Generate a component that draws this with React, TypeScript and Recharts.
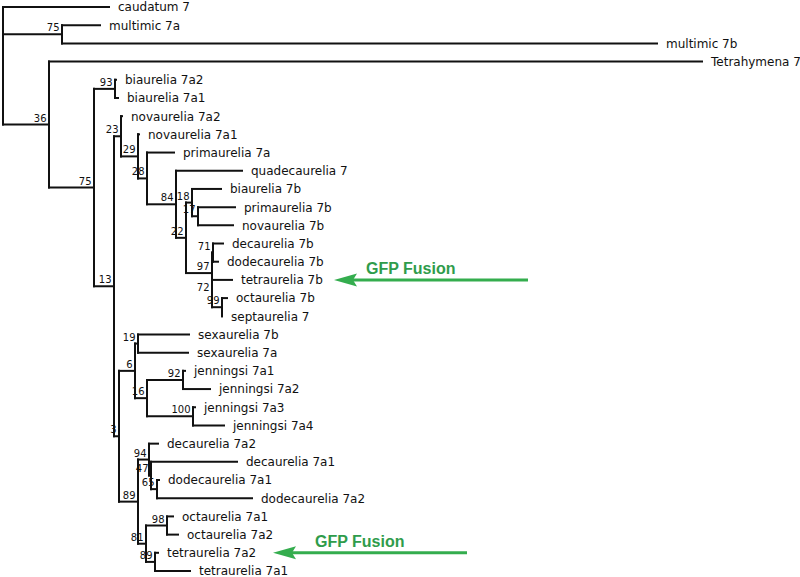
import { ComposedChart, XAxis, YAxis, ReferenceLine, Scatter } from "recharts";

// leaves, top to bottom
const leafNames = [
  "caudatum 7", "multimic 7a", "multimic 7b", "Tetrahymena 7",
  "biaurelia 7a2", "biaurelia 7a1", "novaurelia 7a2", "novaurelia 7a1",
  "primaurelia 7a", "quadecaurelia 7", "biaurelia 7b", "primaurelia 7b",
  "novaurelia 7b", "decaurelia 7b", "dodecaurelia 7b", "tetraurelia 7b",
  "octaurelia 7b", "septaurelia 7", "sexaurelia 7b", "sexaurelia 7a",
  "jenningsi 7a1", "jenningsi 7a2", "jenningsi 7a3", "jenningsi 7a4",
  "decaurelia 7a2", "decaurelia 7a1", "dodecaurelia 7a1", "dodecaurelia 7a2",
  "octaurelia 7a1", "octaurelia 7a2", "tetraurelia 7a2", "tetraurelia 7a1",
];
const leafParent = [
  "root", "A", "A", "B", "D", "D", "F", "G", "H", "I", "K", "L", "L", "N", "N", "O",
  "P", "P", "S", "S", "U", "U", "V", "V", "X", "Y", "Z", "Z", "AB", "AB", "AC", "AC",
];
const leafDepth = [
  106, 97, 654, 699, 113, 115, 119, 136, 171, 239, 218, 232, 230, 220, 215, 229,
  224, 219, 186, 185, 182, 207, 192, 221, 155, 234, 156, 249, 170, 175, 155, 187,
];

// internal nodes
const nodeIds = [
  "root", "A", "B", "C", "D", "E", "F", "G", "H", "I", "J", "K", "L", "M", "N",
  "O", "P", "Q", "R", "S", "T", "U", "V", "W", "X", "Y", "Z", "AA", "AB", "AC",
];
const nodeParent = [
  "", "root", "root", "B", "C", "C", "E", "F", "G", "H", "I", "J", "K", "J", "M",
  "M", "O", "E", "Q", "R", "R", "T", "T", "Q", "W", "X", "Y", "W", "AA", "AA",
];
const nodeDepth = [
  0, 59, 46, 91, 112, 111, 118, 135, 144, 173, 183, 189, 195, 209, 210,
  209, 219, 116, 132, 135, 144, 180, 190, 135, 146, 148, 154, 143, 164, 152,
];
const nodeSupport: (number | null)[] = [
  null, 75, 36, 75, 93, 13, 23, 29, 28, 84, 22, 18, 17, 97, 71,
  72, 99, 3, 6, 19, 16, 92, 100, 89, 94, 47, 65, 81, 98, 89,
];

// GFP fusion callouts
const fusionTargets = ["tetraurelia 7b", "tetraurelia 7a2"];
const arrowTip = [331, 270];
const arrowTail = [525, 464];
const fusionTextStart = [363, 312];

const W = 800;
const H = 577;
const INK = "#111";
const GREEN = "#34ad4e";

function buildTree() {
  const ys: Record<string, number> = {};
  const childYs: Record<string, number[]> = {};

  const nodeY = (id: string): number => {
    if (ys[id] !== undefined) return ys[id];
    const list: number[] = [];
    leafParent.forEach((p, i) => p === id && list.push(i));
    nodeParent.forEach((p, j) => p === id && list.push(nodeY(nodeIds[j])));
    childYs[id] = list;
    ys[id] = (Math.min(...list) + Math.max(...list)) / 2;
    return ys[id];
  };
  nodeIds.forEach((id) => nodeY(id));

  const depthOf = (id: string) => nodeDepth[nodeIds.indexOf(id)];
  const segs: { x1: number; y1: number; x2: number; y2: number }[] = [];
  leafNames.forEach((_, i) => {
    segs.push({ x1: depthOf(leafParent[i]), y1: i, x2: leafDepth[i], y2: i });
  });
  nodeIds.forEach((id, j) => {
    const list = childYs[id];
    segs.push({ x1: nodeDepth[j], y1: Math.min(...list), x2: nodeDepth[j], y2: Math.max(...list) });
    if (nodeParent[j]) {
      segs.push({ x1: depthOf(nodeParent[j]), y1: ys[id], x2: nodeDepth[j], y2: ys[id] });
    }
  });

  const leafPts = leafNames.map((name, i) => ({ x: leafDepth[i], y: i, name }));
  const supportPts = nodeIds
    .map((id, j) => ({ x: nodeDepth[j], y: ys[id], label: nodeSupport[j] }))
    .filter((d) => d.label !== null);
  return { segs, leafPts, supportPts };
}

export default function App() {
  const { segs, leafPts, supportPts } = buildTree();
  const arrowRows = fusionTargets.map((n) => leafNames.indexOf(n));
  const tipPts = arrowRows.map((y, k) => ({ x: arrowTip[k], y }));
  const textPts = arrowRows.map((y, k) => ({ x: fusionTextStart[k], y }));

  return (
    <div style={{ position: "absolute", left: 0, top: 0, width: W, height: H, background: "#fff" }}>
      <ComposedChart width={W} height={H} margin={{ top: 0, right: 0, bottom: 0, left: 0 }}>
        <XAxis type="number" dataKey="x" domain={[-3, 797]} hide allowDataOverflow />
        <YAxis type="number" dataKey="y" domain={[-0.385, 31.33]} reversed hide allowDataOverflow />
        {segs.map((s, i) => (
          <ReferenceLine
            key={`s${i}`}
            segment={[{ x: s.x1, y: s.y1 }, { x: s.x2, y: s.y2 }]}
            stroke={INK}
            strokeWidth={2}
            strokeLinecap="square"
            ifOverflow="visible"
          />
        ))}
        {arrowRows.map((y, k) => (
          <ReferenceLine
            key={`a${k}`}
            segment={[{ x: arrowTip[k] + 8, y }, { x: arrowTail[k], y }]}
            stroke={GREEN}
            strokeWidth={3}
            ifOverflow="visible"
          />
        ))}
        <Scatter
          data={leafPts}
          isAnimationActive={false}
          shape={(p: any) => (
            <text x={p.cx + 9} y={p.cy + 4.4} fontSize={12} fontFamily="DejaVu Sans" fill={INK}>
              {p.payload.name}
            </text>
          )}
        />
        <Scatter
          data={supportPts}
          isAnimationActive={false}
          shape={(p: any) => (
            <text x={p.cx - 2.5} y={p.cy - 3} fontSize={10} fontFamily="DejaVu Sans" textAnchor="end" fill={INK}>
              {p.payload.label}
            </text>
          )}
        />
        <Scatter
          data={tipPts}
          isAnimationActive={false}
          shape={(p: any) => (
            <polygon
              points={`${p.cx},${p.cy} ${p.cx + 23},${p.cy - 6.5} ${p.cx + 19},${p.cy} ${p.cx + 23},${p.cy + 6.5}`}
              fill={GREEN}
            />
          )}
        />
        <Scatter
          data={textPts}
          isAnimationActive={false}
          shape={(p: any) => (
            <text
              x={p.cx}
              y={p.cy - 6}
              fontSize={16}
              fontWeight="bold"
              fontFamily="Liberation Sans"
              fill="#2f9c4b"
            >
              GFP Fusion
            </text>
          )}
        />
      </ComposedChart>
    </div>
  );
}
